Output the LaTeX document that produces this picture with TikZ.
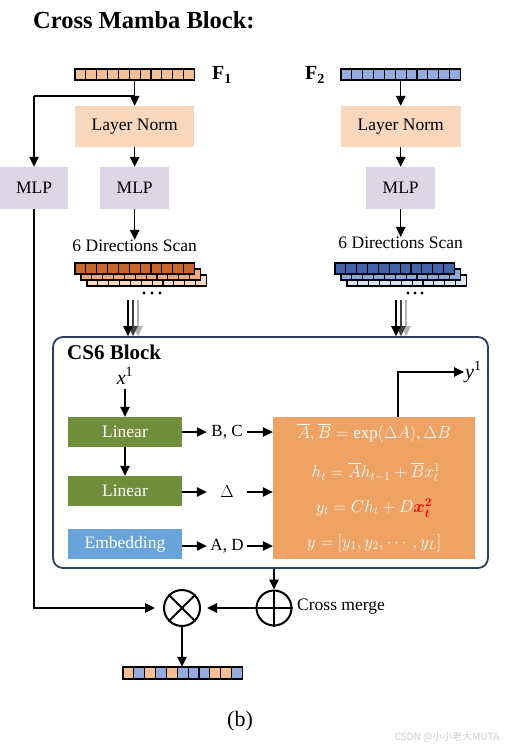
\documentclass[tikz,border=0pt]{standalone}
\usepackage{amsmath}
\usepackage{fontspec}
\setmainfont{Liberation Serif}
\newfontfamily\cjk{Noto Sans CJK SC}
\usetikzlibrary{arrows.meta,calc}
\definecolor{lnfill}{RGB}{248,215,189}
\definecolor{mlpfill}{RGB}{220,214,230}
\definecolor{lingreen}{RGB}{112,142,60}
\definecolor{embblue}{RGB}{104,164,218}
\definecolor{ssmorange}{RGB}{238,163,100}
\definecolor{navy}{RGB}{46,62,95}
\definecolor{tokO}{RGB}{244,190,148}
\definecolor{tokB}{RGB}{148,172,221}
\definecolor{scO1}{RGB}{200,101,44}
\definecolor{scO2}{RGB}{239,170,122}
\definecolor{scO3}{RGB}{250,219,198}
\definecolor{scB1}{RGB}{69,99,168}
\definecolor{scB2}{RGB}{142,167,219}
\definecolor{scB3}{RGB}{218,227,243}
\newcommand\tokrow[4]{\foreach \i in {0,...,10}{\draw[cellb,fill=#3] ({#1+\i*10.85},#2) rectangle ++(10.85,#4);}}
\begin{document}
\begin{tikzpicture}[x=1pt,y=-1pt,
  box/.style={inner sep=0pt, font=\fontsize{17.5}{20}\selectfont},
  wbox/.style={inner sep=0pt, text=white, font=\fontsize{17.5}{20}\selectfont, minimum width=114pt, minimum height=30pt},
  lbl/.style={inner sep=0pt, font=\fontsize{17}{20}\selectfont},
  arr/.style={-{Triangle[length=10pt,width=9.5pt]}, line width=1.3pt},
  plain/.style={line width=1.3pt},
  cellb/.style={draw=black, line width=1.2pt},
  barnode/.style={inner sep=0pt, minimum width=119.35pt, minimum height=11pt},
  eq/.style={inner sep=0pt, text=white, font=\fontsize{17}{20}\selectfont}]
\useasboundingbox (0,0) rectangle (506,749);

% title
\node[anchor=west, inner sep=0pt, font=\bfseries\fontsize{24.5}{28}\selectfont] (title) at (33,20) {Cross Mamba Block:};

% input token bars
\tokrow{75}{69}{tokO}{11}
\node[barnode] (f1) at (134.7,74.5) {};
\node[anchor=west, inner sep=0pt, font=\bfseries\fontsize{20}{24}\selectfont] (f1l) at (212,75) {F\textsubscript{1}};
\tokrow{341}{69}{tokB}{11}
\node[barnode] (f2) at (400.7,74.5) {};
\node[anchor=west, inner sep=0pt, font=\bfseries\fontsize{20}{24}\selectfont] (f2l) at (305,75) {F\textsubscript{2}};

% layer norms and MLPs
\node[box, fill=lnfill, minimum width=119pt, minimum height=41pt] (ln1) at (134.7,126.5) {Layer Norm};
\node[box, fill=lnfill, minimum width=120pt, minimum height=41pt] (ln2) at (400.7,126.5) {Layer Norm};
\node[box, fill=mlpfill, minimum width=68pt, minimum height=42pt] (mlp0) at (34,188) {MLP};
\node[box, fill=mlpfill, minimum width=69pt, minimum height=42pt] (mlp1) at (134.7,188) {MLP};
\node[box, fill=mlpfill, minimum width=69pt, minimum height=42pt] (mlp2) at (400.7,188) {MLP};

\node[box] (dir1) at (134.7,246) {6 Directions Scan};
\node[box] (dir2) at (400.7,243) {6 Directions Scan};

% scan stacks
\tokrow{87}{275}{scO3}{11}
\tokrow{81}{269}{scO2}{11}
\tokrow{75}{263}{scO1}{11}
\tokrow{347}{275}{scB3}{11}
\tokrow{341}{269}{scB2}{11}
\tokrow{335}{263}{scB1}{11}
\node[barnode, minimum width=131pt, minimum height=23pt] (scan1) at (141,274.5) {};
\node[barnode, minimum width=131pt, minimum height=23pt] (scan2) at (401,274.5) {};
\foreach \x in {144,152,160} \fill (\x,293) circle (1.6pt);
\foreach \x in {408,415,422} \fill (\x,293) circle (1.6pt);

% CS6 block
\node[draw=navy, line width=1.8pt, rounded corners=10pt, minimum width=435pt, minimum height=231pt, inner sep=0pt] (cs6) at (270.5,452.5) {};
\node[anchor=west, inner sep=0pt, font=\bfseries\fontsize{21}{24}\selectfont] (cs6l) at (67,352) {CS6 Block};

% triple arrows
\coordinate (ta1) at (128,300); \coordinate (ta2) at (133,300); \coordinate (ta3) at (138,300);
\coordinate (tb1) at (396,300); \coordinate (tb2) at (401,300); \coordinate (tb3) at (406,300);
\draw[arr, gray!60] (ta3) -- (ta3 |- cs6.north);
\draw[arr, gray!50!black] (ta2) -- (ta2 |- cs6.north);
\draw[arr, black] (ta1) -- (ta1 |- cs6.north);
\draw[arr, gray!60] (tb3) -- (tb3 |- cs6.north);
\draw[arr, gray!50!black] (tb2) -- (tb2 |- cs6.north);
\draw[arr, black] (tb1) -- (tb1 |- cs6.north);

% inside CS6
\node[inner sep=1pt, font=\fontsize{20}{24}\selectfont] (x1) at (125,376) {\textit{x}\textsuperscript{1}};
\node[wbox, fill=lingreen] (lin1) at (125,432) {Linear};
\node[wbox, fill=lingreen] (lin2) at (125,491) {Linear};
\node[wbox, fill=embblue] (emb) at (125,544) {Embedding};
\node[lbl, minimum width=40pt] (bc) at (227,432) {B, C};
\node[lbl, minimum width=40pt] (dl) at (227,492) {$\Delta$};
\node[lbl, minimum width=40pt] (ad) at (227,546) {A, D};
\node[fill=ssmorange, minimum width=202pt, minimum height=142pt, inner sep=0pt] (ssm) at (374,488) {};
\node[eq] (e1) at (374,433) {$\overline{A},\overline{B}=\exp(\Delta A),\Delta B$};
\node[eq] (e2) at (376,472) {$h_t=\overline{A}h_{t-1}+\overline{B}x_t^1$};
\node[eq] (e3) at (374,508) {$y_t=Ch_t+D{\color{red}\boldsymbol{x_t^2}}$};
\node[eq] (e4) at (374,543) {$y=[y_1,y_2,\cdots,y_L]$};
\node[anchor=west, inner sep=1pt, font=\fontsize{20}{24}\selectfont] (y1) at (464,372) {\textit{y}\textsuperscript{1}};
\coordinate (yc) at (398,372);

\draw[arr] (x1.south) ++(0,3) -- (lin1.north);
\draw[arr] (lin1.south) -- (lin2.north);
\draw[arr] (lin1.east) -- (bc.west);
\draw[arr] (bc.east) -- (bc.east -| ssm.west);
\draw[arr] (lin2.east |- dl) -- (dl.west);
\draw[arr] (dl.east) -- (dl.east -| ssm.west);
\draw[arr] (emb.east |- ad) -- (ad.west);
\draw[arr] (ad.east) -- (ad.east -| ssm.west);
\draw[arr] (ssm.north -| yc) -- (yc) -- (y1.west);

% upper connectors
\coordinate (j1) at (134.7,96);
\coordinate (lc) at (34,96);
\draw[plain] (j1) -- (lc);
\draw[arr] (lc) -- (mlp0.north);
\draw[arr] (f1.south) -- (ln1.north);
\draw[arr] (ln1.south) -- (mlp1.north);
\draw[arr] (mlp1.south) -- (dir1.north);
\draw[arr] (f2.south) -- (ln2.north);
\draw[arr] (ln2.south) -- (mlp2.north);
\draw[arr] (mlp2.south) -- (dir2.north);

% merge
\node[circle, draw, line width=2pt, minimum size=35pt, inner sep=0pt] (plus) at (274,608) {};
\draw[line width=2pt] (plus.north) -- (plus.south) (plus.west) -- (plus.east);
\node[anchor=west, inner sep=0pt, font=\fontsize{17.5}{20}\selectfont] (cm) at (297,607) {Cross merge};
\node[circle, draw, line width=2pt, minimum size=36pt, inner sep=0pt] (ot) at (182,608) {};
\draw[line width=2pt] (ot.north west) -- (ot.south east) (ot.north east) -- (ot.south west);
\draw[arr] (cs6.south -| plus) -- (plus.north);
\draw[arr, shorten >=6pt] (plus.west) -- (ot.east);
\draw[arr, shorten >=8pt] (mlp0.south) |- (ot.west);

% output bar
\foreach \i/\c in {0/tokO,1/tokB,2/tokO,3/tokB,4/tokO,5/tokB,6/tokB,7/tokB,8/tokO,9/tokO,10/tokB}
  {\draw[cellb, fill=\c] ({123+\i*10.85},667) rectangle ++(10.85,12);}
\node[barnode, minimum height=12pt] (out) at (182.7,673) {};
\draw[arr] (ot.south) -- (ot.south |- out.north);

\node[inner sep=0pt, font=\fontsize{22}{26}\selectfont] (cap) at (240,721) {(b)};
\node[inner sep=0pt, text=gray!40, font=\cjk\fontsize{10}{12}\selectfont] (wm) at (447,737) {CSDN @小小老大MUTA};
\end{tikzpicture}
\end{document}
